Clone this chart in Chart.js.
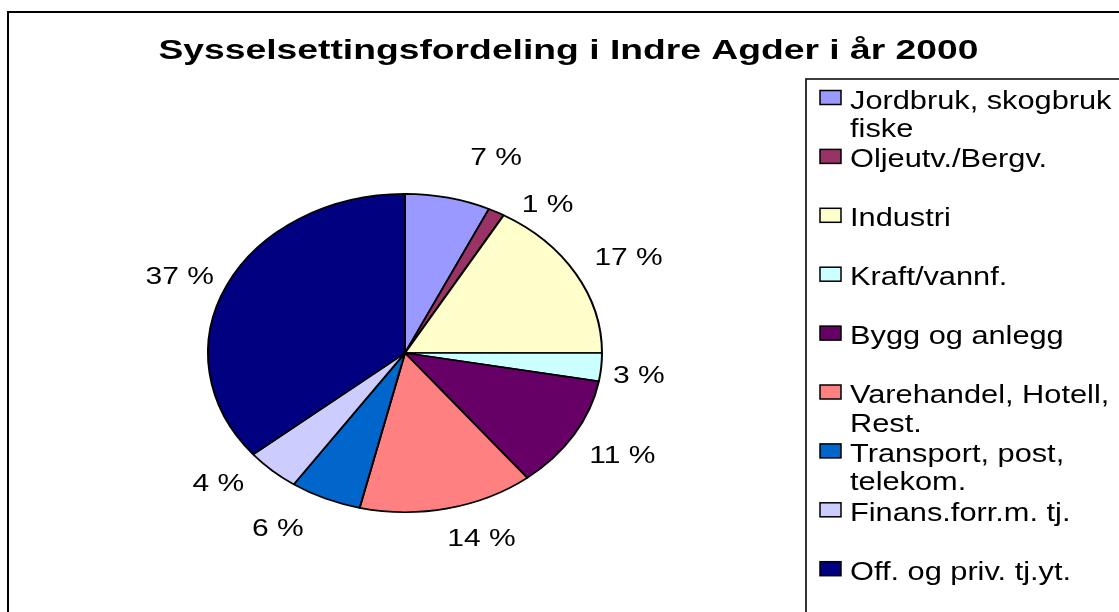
<!DOCTYPE html>
<html>
<head>
<meta charset="utf-8">
<script src="https://cdn.jsdelivr.net/npm/chart.js@4/dist/chart.umd.min.js"></script>
<style>
  html, body { margin: 0; padding: 0; background: #ffffff; }
  #wrap { width: 1119px; height: 612px; position: relative; }
</style>
</head>
<body>
<div id="wrap"><canvas id="c" width="1119" height="612"></canvas></div>
<script>
// ---- data ----
const chartTitle = 'Sysselsettingsfordeling i Indre Agder i år 2000';
const categories = [
  ['Jordbruk, skogbruk', 'fiske'],
  ['Oljeutv./Bergv.'],
  ['Industri'],
  ['Kraft/vannf.'],
  ['Bygg og anlegg'],
  ['Varehandel, Hotell,', 'Rest.'],
  ['Transport, post,', 'telekom.'],
  ['Finans.forr.m. tj.'],
  ['Off. og priv. tj.yt.']
];
const shares = [7.0, 1.35, 16.65, 2.85, 11.5, 14.35, 5.85, 4.45, 36.0];
const shareLabels = ['7 %', '1 %', '17 %', '3 %', '11 %', '14 %', '6 %', '4 %', '37 %'];
const sliceColors = ['#9999FF', '#993366', '#FFFFCC', '#CCFFFF', '#660066', '#FF8080', '#0066CC', '#CCCCFF', '#000080'];

// ---- layout / style ----
const FONT = '"Liberation Sans", Arial, Helvetica, sans-serif';
const SQUASH_Y = 0.808;              // pie drawn as a flattened ellipse
const LABEL_GAP = 20;
const labelNudge = [[38,-10],[30,20],[6,0],[-8,6],[3,6],[22,2],[-29,3],[-23,-8],[2,5]];

function stretchedText(ctx, text, x, y, font, sx, align, baseline) {
  ctx.save();
  ctx.font = font;
  ctx.textAlign = align;
  ctx.textBaseline = baseline;
  ctx.translate(x, y);
  ctx.scale(sx, 1);
  ctx.fillText(text, 0, 0);
  ctx.restore();
}

const ellipsePlugin = {
  id: 'ellipse',
  beforeDatasetsDraw(chart) {
    const arc = chart.getDatasetMeta(0).data[0];
    const ctx = chart.ctx;
    ctx.save();
    ctx.translate(arc.x, arc.y);
    ctx.scale(1, SQUASH_Y);
    ctx.translate(-arc.x, -arc.y);
  },
  afterDatasetsDraw(chart) {
    chart.ctx.restore();
  }
};

const decorPlugin = {
  id: 'decor',
  beforeDraw(chart) {
    const ctx = chart.ctx;
    ctx.save();
    ctx.fillStyle = '#ffffff';
    ctx.fillRect(0, 0, chart.width, chart.height);
    ctx.restore();
  },
  afterDraw(chart) {
    const ctx = chart.ctx;
    ctx.save();
    // outer chart frame
    ctx.strokeStyle = '#000000';
    ctx.lineWidth = 2;
    ctx.beginPath();
    ctx.moveTo(8, 640); ctx.lineTo(8, 12); ctx.lineTo(1140, 12);
    ctx.stroke();
    // legend frame
    ctx.lineWidth = 1.6;
    ctx.beginPath();
    ctx.moveTo(806, 640); ctx.lineTo(806, 79); ctx.lineTo(1140, 79);
    ctx.stroke();

    // title
    ctx.fillStyle = '#000000';
    stretchedText(ctx, chartTitle, 568.5, 58.5, 'bold 27px ' + FONT, 1.38, 'center', 'alphabetic');

    // legend entries
    const top = 99.5, step = 58.9, lineH = 28.5;
    categories.forEach((lines, i) => {
      const cy = top + step * i;
      ctx.fillStyle = sliceColors[i];
      ctx.fillRect(820, cy - 9, 21, 14);
      ctx.strokeStyle = '#000000';
      ctx.lineWidth = 1.5;
      ctx.strokeRect(820, cy - 9, 21, 14);
      ctx.fillStyle = '#000000';
      lines.forEach((ln, j) => {
        stretchedText(ctx, ln, 850, cy + 9 + j * lineH, '25px ' + FONT, 1.23, 'left', 'alphabetic');
      });
    });

    // data labels (outside end)
    const meta = chart.getDatasetMeta(0);
    meta.data.forEach((arc, i) => {
      const mid = (arc.startAngle + arc.endAngle) / 2;
      const font = '24px ' + FONT;
      ctx.font = font;
      const w = ctx.measureText(shareLabels[i]).width * 1.25;
      const h = 20;
      const R = arc.outerRadius;
      const x = arc.x + (R + LABEL_GAP + w / 2) * Math.cos(mid) + labelNudge[i][0];
      const y = arc.y + (R * SQUASH_Y + LABEL_GAP + h / 2) * Math.sin(mid) + labelNudge[i][1];
      ctx.fillStyle = '#000000';
      stretchedText(ctx, shareLabels[i], x, y, font, 1.25, 'center', 'middle');
    });
    ctx.restore();
  }
};

new Chart(document.getElementById('c'), {
  type: 'pie',
  data: {
    labels: categories,
    datasets: [{
      data: shares,
      backgroundColor: sliceColors,
      borderColor: '#000000',
      borderWidth: 2
    }]
  },
  options: {
    responsive: false,
    animation: false,
    events: [],
    rotation: 0,
    layout: { padding: { left: 207, right: 516, top: 155, bottom: 61 } },
    plugins: {
      legend: { display: false },
      title: { display: false },
      tooltip: { enabled: false }
    }
  },
  plugins: [ellipsePlugin, decorPlugin]
});
</script>
</body>
</html>
